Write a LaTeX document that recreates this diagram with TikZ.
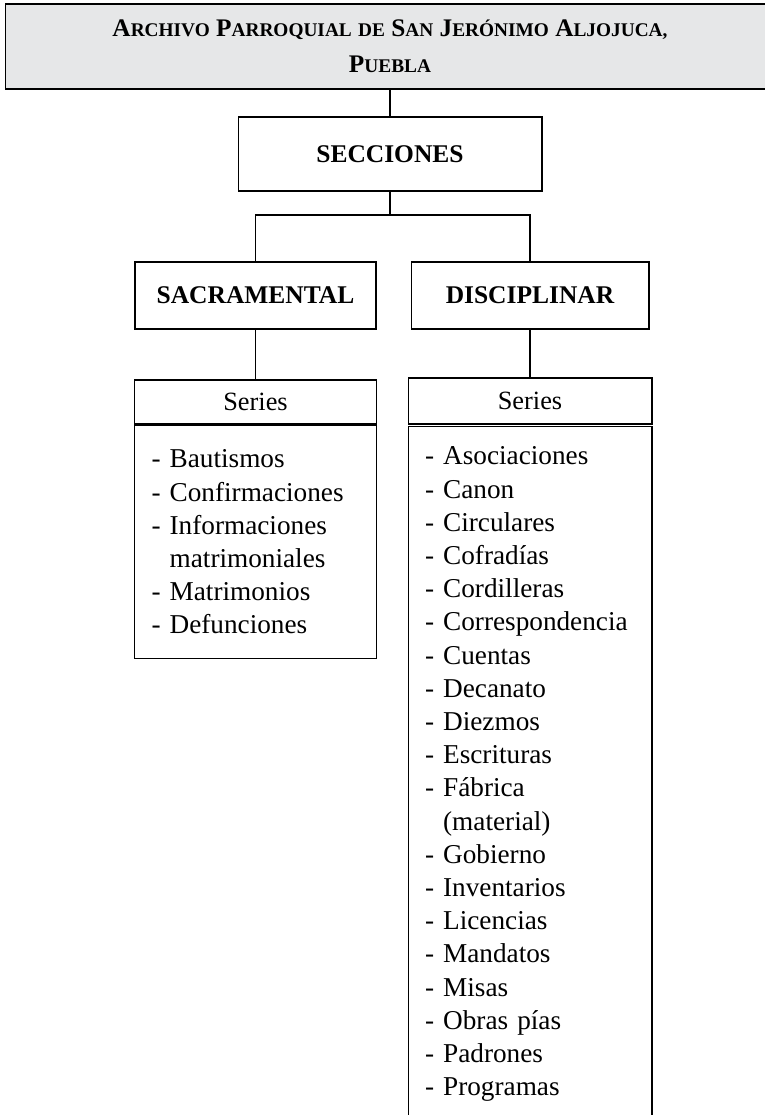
\documentclass[tikz,border=0pt]{standalone}
\usepackage{fontspec}
\setmainfont{Liberation Serif}
\usetikzlibrary{positioning,calc}
\definecolor{headgray}{RGB}{230,231,232}
\tikzset{
	box/.style={draw, line width=0.6pt, align=center, inner sep=0pt},
	listbox/.style={draw, line width=0.6pt, align=left, inner xsep=0.34cm, inner ysep=0pt, font=\fontsize{15.5}{18.9}\selectfont},
}
\newcommand{\hsc}[2]{{\fontsize{14.4}{19}\selectfont #1}{\fontsize{11}{19}\selectfont #2}}

\begin{document}
\begin{tikzpicture}[x=0.02cm, y=-0.02cm]
	\useasboundingbox (0,0) rectangle (764,1115);
	\begin{scope}[line width=0.6pt]
		\node[box, fill=headgray, minimum width=15.4cm, minimum height=1.7cm, font=\bfseries\fontsize{14.4}{19}\selectfont] (arch) at (390,46.5)
			{\hsc{A}{RCHIVO} \hsc{P}{ARROQUIAL} \hsc{}{DE} \hsc{S}{AN} \hsc{J}{ERÓNIMO} \hsc{A}{LJOJUCA,}\\[1.5pt] \hsc{P}{UEBLA}};
		\node[box, minimum width=6.08cm, minimum height=1.48cm, font=\bfseries\fontsize{14.5}{17}\selectfont] (secc) at (390,154) {SECCIONES};

		\node[box, minimum width=4.82cm, minimum height=1.34cm, font=\bfseries\fontsize{14.5}{17}\selectfont] (sac) at (255.5,295.5) {SACRAMENTAL};
		\node[box, minimum width=4.76cm, minimum height=1.34cm, font=\bfseries\fontsize{14.5}{17}\selectfont] (dis) at (530,295.5) {DISCIPLINAR};

		\node[box, minimum width=4.84cm, minimum height=0.88cm, font=\fontsize{15}{18}\selectfont] (sacser) at (255.5,402) {Series};
		\node[box, minimum width=4.88cm, minimum height=0.92cm, font=\fontsize{15}{18}\selectfont] (disser) at (530,401) {Series};

		\node[listbox, text width=4.16cm, minimum height=4.67cm] (saclist) at (255.5,542) {- Bautismos\\- Confirmaciones\\- Informaciones\\\phantom{- }matrimoniales\\- Matrimonios\\- Defunciones};
		\node[listbox, text width=4.2cm, minimum height=13.91cm] (dislist) at (530,774.25) {- Asociaciones\\- Canon\\- Circulares\\- Cofradías\\- Cordilleras\\- Correspondencia\\- Cuentas\\- Decanato\\- Diezmos\\- Escrituras\\- Fábrica\\\phantom{- }(material)\\- Gobierno\\- Inventarios\\- Licencias\\- Mandatos\\- Misas\\- Obras pías\\- Padrones\\- Programas};

		\coordinate (split) at (390,215);
		\draw (arch) -- (secc);
		\draw (secc) -- (split);
		\draw (sac) |- (split) -| (dis);
		\draw (sac) -- (sacser);
		\draw (dis) -- (disser);
	\end{scope}
\end{tikzpicture}
\end{document}
